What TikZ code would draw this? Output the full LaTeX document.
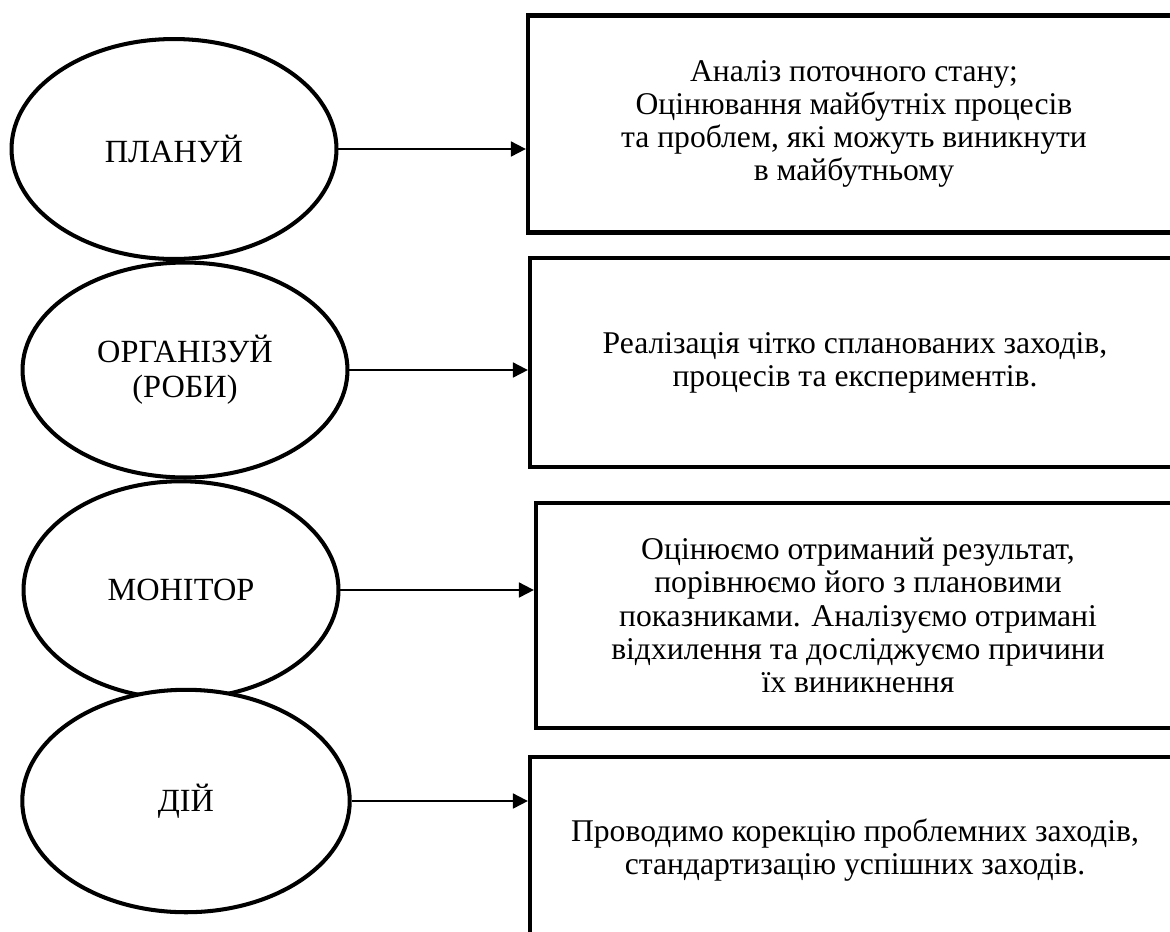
\documentclass[tikz,border=0pt]{standalone}
\usepackage{fontspec}
\setmainfont{Liberation Serif}
\usetikzlibrary{shapes.geometric, arrows.meta}
\tikzset{
    stage/.style={ellipse, draw=black, fill=white, line width=2.3pt, inner sep=0pt, align=center, font=\fontsize{18.4}{20}\selectfont},
    panel/.style={rectangle, draw=black, line width=2.5pt, inner sep=0pt, align=center, font=\fontsize{18}{18.9}\selectfont},
    link/.style={-{Triangle[length=8.5pt,width=8.5pt]}, line width=1.1pt}
}

\begin{document}
\begin{tikzpicture}[x=0.02cm, y=-0.02cm]
    \useasboundingbox (0,0) rectangle (1170,931);
    % right-hand boxes (cut off at the page edge)
    \node[panel, minimum width=13.04cm, minimum height=4.34cm] (b1) at (854,124) {Аналіз поточного стану;\\ Оцінювання майбутніх процесів\\ та проблем, які можуть виникнути\\ в майбутньому};
    \node[panel, minimum width=13cm, minimum height=4.18cm] (b2) at (855,362.5) {Реалізація чітко спланованих заходів,\\ процесів та експериментів.};
    \node[panel, minimum width=12.88cm, minimum height=4.5cm] (b3) at (858,615.5) {Оцінюємо отриманий результат,\\ порівнюємо його з плановими\\ показниками. Аналізуємо отримані\\ відхилення та досліджуємо причини\\ їх виникнення};
    \node[panel, minimum width=13cm, minimum height=3.72cm] (b4) at (855,850) {Проводимо корекцію проблемних заходів,\\ стандартизацію успішних заходів.};
    % stages
    \node[stage, minimum width=6.5cm, minimum height=4.4cm] (e1) at (174,149) {ПЛАНУЙ};
    \node[stage, minimum width=6.5cm, minimum height=4.3cm] (e2) at (185,370) {ОРГАНІЗУЙ\\ (РОБИ)};
    \node[stage, minimum width=6.3cm, minimum height=4.35cm] (e3) at (181,590) {МОНІТОР};
    \node[stage, minimum width=6.55cm, minimum height=4.45cm] (e4) at (186,801) {ДІЙ};
    \draw[link] (e1.east) -- (e1.east -| b1.west);
    \draw[link] (e2.east) -- (e2.east -| b2.west);
    \draw[link] (e3.east) -- (e3.east -| b3.west);
    \draw[link] (e4.east) -- (e4.east -| b4.west);
\end{tikzpicture}
\end{document}
